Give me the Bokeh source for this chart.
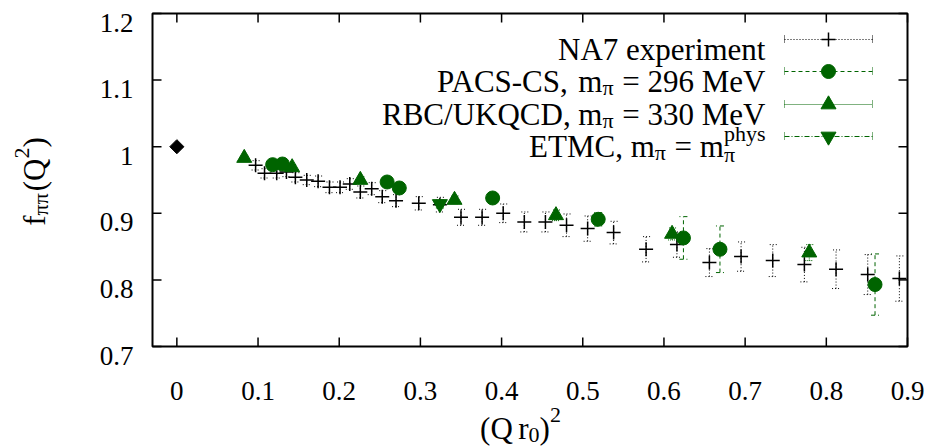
import numpy as np
from bokeh.plotting import figure
from bokeh.models import ColumnDataSource, Whisker, TeeHead, Label, Range1d
from bokeh.core.properties import value
from bokeh.embed import file_html
from bokeh.resources import INLINE

# ---------------- data ----------------
# NA7 experiment (pion form factor), (Q r0)^2 vs f_pipi(Q^2)
na7_x = [0.097, 0.108, 0.123, 0.135, 0.146, 0.160, 0.174, 0.188, 0.201, 0.213,
         0.226, 0.240, 0.253, 0.270, 0.298, 0.324, 0.350, 0.376, 0.402, 0.428,
         0.454, 0.480, 0.506, 0.538, 0.578, 0.616, 0.656, 0.695, 0.734, 0.773,
         0.812, 0.851, 0.890]
na7_y = [0.972, 0.960, 0.960, 0.962, 0.954, 0.950, 0.948, 0.939, 0.939, 0.944,
         0.932, 0.937, 0.925, 0.919, 0.915, 0.913, 0.894, 0.894, 0.900, 0.887,
         0.887, 0.882, 0.877, 0.871, 0.846, 0.853, 0.826, 0.835, 0.829, 0.823,
         0.816, 0.808, 0.802]
na7_err = [0.007, 0.007, 0.007, 0.007, 0.007, 0.007, 0.008, 0.008, 0.008, 0.008,
           0.009, 0.009, 0.009, 0.009, 0.010, 0.011, 0.012, 0.012, 0.014, 0.015,
           0.015, 0.017, 0.019, 0.017, 0.019, 0.019, 0.021, 0.022, 0.024, 0.026,
           0.029, 0.030, 0.034]

# PACS-CS, m_pi = 296 MeV
pacs_x = [0.118, 0.130, 0.259, 0.274, 0.389, 0.519, 0.624, 0.669, 0.860]
pacs_y = [0.973, 0.974, 0.947, 0.938, 0.923, 0.891, 0.863, 0.846, 0.793]
pacs_err = [0.004, 0.004, 0.006, 0.006, 0.008, 0.010, 0.032, 0.035, 0.046]

# RBC/UKQCD, m_pi = 330 MeV
rbc_x = [0.083, 0.142, 0.226, 0.342, 0.467, 0.610, 0.779]
rbc_y = [0.983, 0.969, 0.950, 0.920, 0.897, 0.869, 0.841]
rbc_err = [0.003, 0.004, 0.005, 0.006, 0.008, 0.009, 0.012]

# ETMC, physical pion mass
etmc_x = [0.324]
etmc_y = [0.914]
etmc_err = [0.006]

# normalisation point f(0) = 1
norm_x = [0.0]
norm_y = [1.0]

x_ticks = [0, 0.1, 0.2, 0.3, 0.4, 0.5, 0.6, 0.7, 0.8, 0.9]
x_tick_labels = ["0", "0.1", "0.2", "0.3", "0.4", "0.5", "0.6", "0.7", "0.8", "0.9"]
y_ticks = [0.7, 0.8, 0.9, 1.0, 1.1, 1.2]
y_tick_labels = ["0.7", "0.8", "0.9", "1", "1.1", "1.2"]

# ---------------- layout ----------------
W, H = 938, 446
FL, FR, FT, FB = 152, 907, 13, 346          # plot box edges in pixels
XMIN, XMAX = -0.03, 0.9
YMIN, YMAX = 0.7, 1.2
GREEN = "#006400"
SERIF = "Liberation Serif"
TICK_FS = 27
LEG = 31
SCRIPT = 22
TICK_LEN = 9

SX = (FR - FL) / (XMAX - XMIN)               # pixels per x unit
SY = (FB - FT) / (YMAX - YMIN)               # pixels per y unit


def dx(px):
    return XMIN + (px - FL) / SX


def dy(py):
    return YMIN + (FB - py) / SY


# the canvas is the frame; the box [XMIN, XMAX] x [YMIN, YMAX] is drawn inside it
p = figure(width=W, height=H,
           x_range=Range1d(dx(0), dx(W)), y_range=Range1d(dy(H), dy(0)),
           x_axis_type=None, y_axis_type=None, min_border=0,
           output_backend="svg", toolbar_location=None)
p.outline_line_color = None

# plot box
p.quad(left=[XMIN], right=[XMAX], bottom=[YMIN], top=[YMAX],
       fill_color=None, line_color="black", line_width=2)

# tick marks, pointing inward on all four sides
tx, ty = TICK_LEN / SX, TICK_LEN / SY
p.segment(x0=x_ticks, y0=[YMIN] * len(x_ticks), x1=x_ticks, y1=[YMIN + ty] * len(x_ticks),
          line_color="black", line_width=1.5)
p.segment(x0=x_ticks, y0=[YMAX] * len(x_ticks), x1=x_ticks, y1=[YMAX - ty] * len(x_ticks),
          line_color="black", line_width=1.5)
p.segment(x0=[XMIN] * len(y_ticks), y0=y_ticks, x1=[XMIN + tx] * len(y_ticks), y1=y_ticks,
          line_color="black", line_width=1.5)
p.segment(x0=[XMAX] * len(y_ticks), y0=y_ticks, x1=[XMAX - tx] * len(y_ticks), y1=y_ticks,
          line_color="black", line_width=1.5)

# tick labels
p.text(x=x_ticks, y=[YMIN - 44 / SY] * len(x_ticks), text=x_tick_labels,
       text_font=value(SERIF), text_font_size=f"{TICK_FS}px", text_color="black",
       text_align="center", text_baseline="alphabetic")
p.text(x=[XMIN - 19 / SX] * len(y_ticks), y=[t - 9 / SY for t in y_ticks], text=y_tick_labels,
       text_font=value(SERIF), text_font_size=f"{TICK_FS}px", text_color="black",
       text_align="right", text_baseline="alphabetic")


# ---------------- error bars ----------------
def add_errors(xs, ys, es, color, dash, cap):
    src = ColumnDataSource(dict(x=xs, lo=[y - e for y, e in zip(ys, es)],
                                hi=[y + e for y, e in zip(ys, es)]))
    heads = [TeeHead(size=cap, line_color=color, line_width=1, line_dash=dash) for _ in range(2)]
    w = Whisker(base="x", lower="lo", upper="hi", source=src, dimension="height",
                line_color=color, line_width=1, line_dash=dash,
                lower_head=heads[0], upper_head=heads[1])
    p.add_layout(w)


NA7_DASH = "1 2"
PACS_DASH = "4 3"
RBC_DASH = "1 1"
ETMC_DASH = "5 2 1 2"

add_errors(na7_x, na7_y, na7_err, "black", NA7_DASH, 8)
add_errors(pacs_x, pacs_y, pacs_err, GREEN, PACS_DASH, 8)
add_errors(rbc_x, rbc_y, rbc_err, GREEN, RBC_DASH, 8)
add_errors(etmc_x, etmc_y, etmc_err, GREEN, ETMC_DASH, 8)

# ---------------- markers ----------------
p.scatter(na7_x, na7_y, marker="cross", size=14, line_color="black", line_width=1.5)
p.scatter(pacs_x, pacs_y, marker="circle", size=14, fill_color=GREEN, line_color=GREEN)
p.scatter(rbc_x, rbc_y, marker="triangle", size=15, fill_color=GREEN, line_color=GREEN)
p.scatter(etmc_x, etmc_y, marker="inverted_triangle", size=15, fill_color=GREEN, line_color=GREEN)
p.scatter(norm_x, norm_y, marker="square", angle=np.pi / 4, size=10,
          fill_color="black", line_color="black")

# ---------------- text pieces with sub/superscripts ----------------
CHAR_W = {' ': 250, '(': 333, ')': 333, ',': 250, '-': 333, '/': 278, '=': 564, '.': 250,
          'A': 722, 'B': 667, 'C': 667, 'D': 722, 'E': 611, 'K': 722, 'M': 889, 'N': 722,
          'P': 556, 'Q': 722, 'R': 667, 'S': 556, 'T': 611, 'U': 722, 'V': 722,
          'e': 444, 'f': 333, 'h': 500, 'i': 278, 'm': 778, 'n': 500, 'p': 500, 'r': 333,
          's': 389, 't': 278, 'x': 500, 'y': 500, 'π': 549}


def part_width(text, size):
    return sum(CHAR_W.get(ch, 500) for ch in text) * size / 1000.0


def rich(items, px, py, align="right", vertical=False):
    """items: list of groups; each group is a list of (text, font_px, shift_px)
    drawn from the same origin; the pen advances by the widest part of the group.
    Leading/trailing blanks only move the pen."""
    widths = [max(part_width(t, fs) for t, fs, sh in g) for g in items]
    total = sum(widths)
    pen = {"right": -total, "center": -total / 2, "left": 0}[align]
    for g, w in zip(items, widths):
        for t, fs, sh in g:
            lead = part_width(t[:len(t) - len(t.lstrip(' '))], fs)
            body = t.strip(' ')
            if not body:
                continue
            if vertical:
                p.text(x=[dx(px + sh)], y=[dy(py - pen - lead)], text=[body], angle=np.pi / 2,
                       text_font=value(SERIF), text_font_size=f"{fs}px", text_color="black",
                       text_align="left", text_baseline="alphabetic")
            else:
                p.add_layout(Label(x=dx(px + pen + lead), y=dy(py + sh), text=body,
                                   text_font=SERIF, text_font_size=f"{fs}px",
                                   text_color="black", text_baseline="alphabetic"))
        pen += w


SUB = 6      # subscript drop, px
SUPR = -13   # superscript rise, px

legend_rows = [
    ([[("NA7 experiment", LEG, 0)]], "black", NA7_DASH, "cross"),
    ([[("PACS-CS, ", LEG, 0)], [("m", LEG, 0)], [("π", SCRIPT, SUB)],
      [(" = 296 MeV", LEG, 0)]], GREEN, PACS_DASH, "circle"),
    ([[("RBC/UKQCD, ", LEG, 0)], [("m", LEG, 0)], [("π", SCRIPT, SUB)],
      [(" = 330 MeV", LEG, 0)]], GREEN, RBC_DASH, "triangle"),
    ([[("ETMC, ", LEG, 0)], [("m", LEG, 0)], [("π", SCRIPT, SUB)],
      [(" = ", LEG, 0)], [("m", LEG, 0)],
      [("π", SCRIPT, 8), ("phys", SCRIPT, SUPR)]], GREEN, ETMC_DASH, "inverted_triangle"),
]

ROW_Y = [39, 71, 104, 136]
TEXT_R = 765
S0, S1, SM = 784, 872, 828
for (items, color, dash, marker), ry in zip(legend_rows, ROW_Y):
    rich(items, TEXT_R, ry + 10, align="right")
    p.segment(x0=[dx(S0)], y0=[dy(ry)], x1=[dx(S1)], y1=[dy(ry)],
              line_color=color, line_width=1, line_dash=dash)
    p.segment(x0=[dx(S0), dx(S1)], y0=[dy(ry - 4)] * 2, x1=[dx(S0), dx(S1)], y1=[dy(ry + 4)] * 2,
              line_color=color, line_width=1, line_dash="1 1")
    if marker == "cross":
        p.scatter([dx(SM)], [dy(ry)], marker="cross", size=14, line_color="black", line_width=1.5)
    else:
        p.scatter([dx(SM)], [dy(ry)], marker=marker, size=15 if "tri" in marker else 14,
                  fill_color=GREEN, line_color=GREEN)

# axis titles
rich([[("(", LEG, 0)], [("Q", LEG, 0)], [(" ", SCRIPT, 0)], [("r", LEG, 0)],
      [("0", SCRIPT, SUB)], [(")", LEG, 0)], [("2", SCRIPT, -14)]],
     520, 428, align="center")
rich([[("f", LEG, 0)], [("ππ", SCRIPT, SUB)], [("(", LEG, 0)], [("Q", LEG, 0)],
      [("2", SCRIPT, -13)], [(")", LEG, 0)]],
     34, 181, align="center", vertical=True)

open("out.html", "w").write(file_html(p, INLINE))
